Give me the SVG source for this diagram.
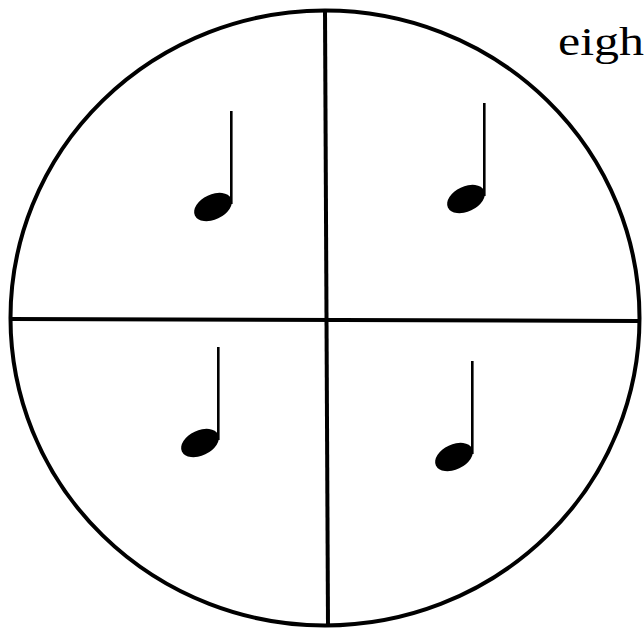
<svg xmlns="http://www.w3.org/2000/svg" xmlns:xlink="http://www.w3.org/1999/xlink" width="644" height="632" viewBox="0 0 644 632">
<style>
.line{stroke:#000;stroke-width:4;fill:none}
.lbl{font-family:"Liberation Serif","Times New Roman",serif;font-size:39px;fill:#000}
</style>
<defs>
<g id="quarter">
<ellipse cx="0" cy="0" rx="20" ry="12.5" transform="rotate(-25)" fill="#000"/>
<rect x="17" y="-96" width="2.6" height="93" fill="#000"/>
</g>
</defs>
<rect width="644" height="632" fill="#fff"/>
<g id="circle">
<ellipse class="line" cx="325" cy="318" rx="314.5" ry="307.5"/>
</g>
<g id="connectors">
<line class="line" x1="325" y1="10" x2="328" y2="626"/>
<line class="line" x1="11" y1="319" x2="639" y2="321"/>
</g>
<g id="note1"><use xlink:href="#quarter" href="#quarter" x="213" y="207"/></g>
<g id="note2"><use xlink:href="#quarter" href="#quarter" x="466" y="199"/></g>
<g id="note3"><use xlink:href="#quarter" href="#quarter" x="200" y="443"/></g>
<g id="note4"><use xlink:href="#quarter" href="#quarter" x="454" y="457"/></g>
<g id="label"><text class="lbl" x="558" y="55" textLength="86" lengthAdjust="spacingAndGlyphs">eigh</text></g>
</svg>
